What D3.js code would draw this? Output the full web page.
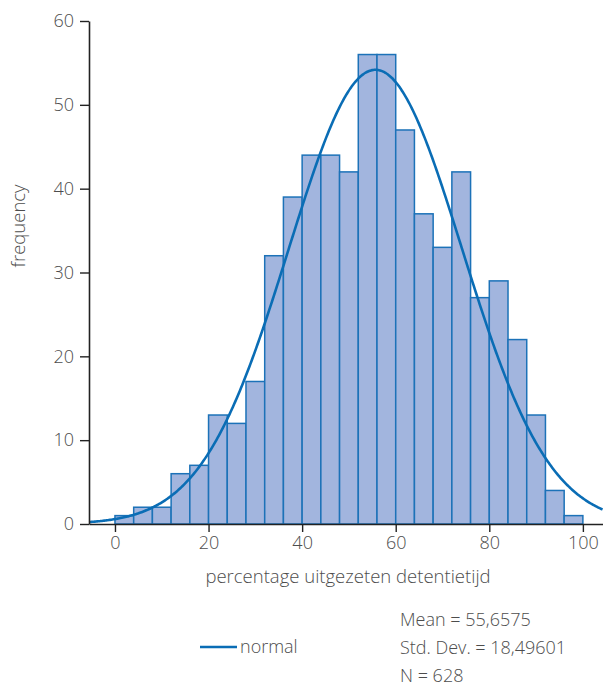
<!DOCTYPE html>
<html><head><meta charset="utf-8">
<script src="https://cdn.jsdelivr.net/npm/d3@7/dist/d3.min.js"></script>
<style>body{margin:0;background:#fff}svg{display:block}text{font-family:"Open Sans",sans-serif;fill:#4d4d4d;font-weight:300}</style>
</head><body>
<script>
const binStarts = [0,4,8,12,16,20,24,28,32,36,40,44,48,52,56,60,64,68,72,76,80,84,88,92,96];
const counts    = [1,2,2,6,7,13,12,17,32,39,44,44,42,56,56,47,37,33,42,27,29,22,13,4,1];
const binWidth = 4;
const xTicks = [0,20,40,60,80,100];
const yTicks = [0,10,20,30,40,50,60];
const mean = 55.6575, sd = 18.49601, n = 628;
const statLabels = ["Mean = 55,6575","Std. Dev. = 18,49601","N = 628"];

const W = 603, H = 686;
const svg = d3.select("body").append("svg").attr("width", W).attr("height", H);
const x = d3.scaleLinear().domain([-5.55, 104.3]).range([89, 603]);
const y = d3.scaleLinear().domain([0, 60]).range([524, 21]);

// bars
svg.append("g").selectAll("rect").data(binStarts).join("rect")
  .attr("x", d => x(d)).attr("width", d => x(d + binWidth) - x(d))
  .attr("y", (d, i) => y(counts[i])).attr("height", (d, i) => y(0) - y(counts[i]))
  .attr("fill", "#a2b5de").attr("stroke", "#1c72b8").attr("stroke-width", 1.5);

// normal curve
const xs = d3.range(-5.55, 104.31, 0.25);
const k = n * binWidth / (sd * Math.sqrt(2 * Math.PI));
const line = d3.line().x(d => x(d)).y(d => y(k * Math.exp(-0.5 * ((d - mean) / sd) ** 2))).curve(d3.curveBasis);
svg.append("path").datum(xs).attr("d", line).attr("fill", "none").attr("stroke", "#0a6db5").attr("stroke-width", 2.6);

// axes
const xa = svg.append("g").attr("transform", `translate(0,${y(0)})`)
  .call(d3.axisBottom(x).tickValues(xTicks).tickSize(8).tickPadding(4).tickSizeOuter(0));
const ya = svg.append("g").attr("transform", `translate(${x.range()[0]},0)`)
  .call(d3.axisLeft(y).tickValues(yTicks).tickSize(9).tickPadding(6).tickSizeOuter(0));
[xa, ya].forEach(g => {
  g.attr("font-family", null).attr("font-size", null);
  g.select(".domain").attr("stroke", "#222").attr("stroke-width", 1.6);
  g.selectAll(".tick line").attr("stroke", "#222").attr("stroke-width", 1.4);
  g.selectAll(".tick text").attr("font-size", 18).attr("fill", "#4d4d4d");
});

// titles
svg.append("text").attr("x", 348).attr("y", 583).attr("text-anchor", "middle").attr("font-size", 18.5).text("percentage uitgezeten detentietijd");
svg.append("text").attr("transform", "translate(25,226) rotate(-90)").attr("text-anchor", "middle").attr("font-size", 18.5).text("frequency");

// legend
svg.append("line").attr("x1", 200).attr("x2", 237).attr("y1", 647).attr("y2", 647).attr("stroke", "#0a6db5").attr("stroke-width", 2.6);
svg.append("text").attr("x", 240).attr("y", 653).attr("font-size", 18).text("normal");
svg.append("g").selectAll("text").data(statLabels).join("text")
  .attr("x", 400).attr("y", (d, i) => 626 + i * 28).attr("font-size", 18).text(d => d);
</script>
</body></html>
